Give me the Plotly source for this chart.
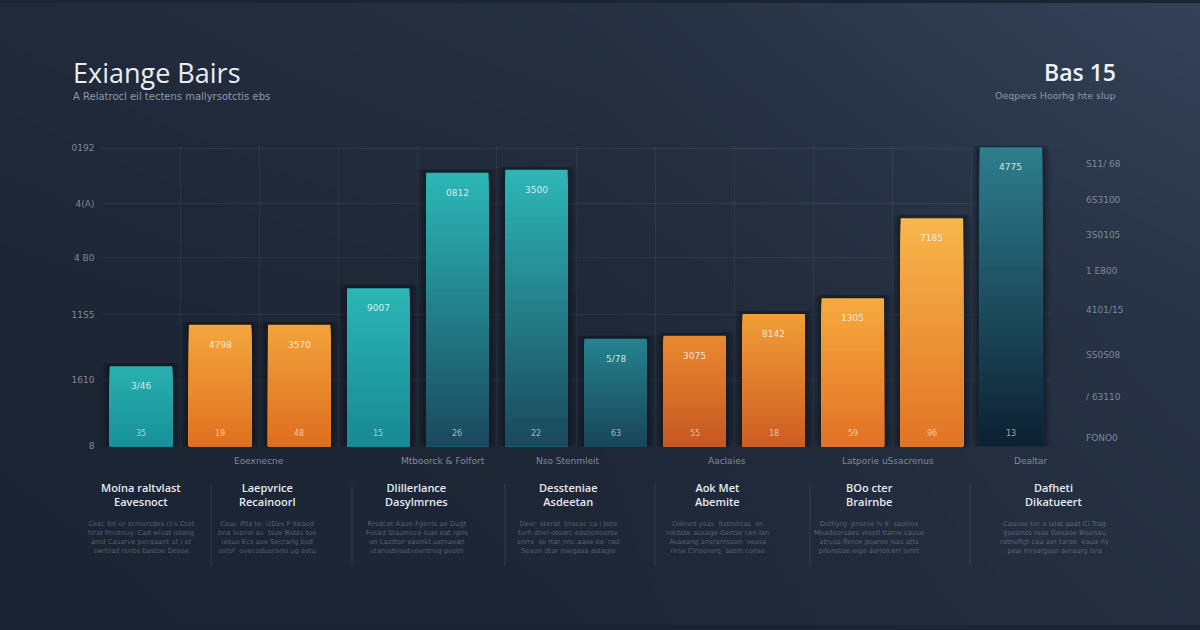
import plotly.graph_objects as go

# ---------------- data ----------------
categories = ["B1", "B2", "B3", "B4", "B5", "B6", "B7", "B8", "B9", "B10", "B11", "B12"]
values = [81, 123, 123, 160, 277, 280, 109, 112, 134, 150, 231, 303]
top_labels = ["3/46", "4798", "3570", "9007", "0812", "3500", "5/78", "3075", "8142", "1305", "7185", "4775"]
bottom_labels = ["35", "19", "48", "15", "26", "22", "63", "55", "18", "59", "96", "13"]

left_tick_vals = [302, 246, 191, 133, 67, 0]
left_tick_text = ["0192", "4(A)", "4 B0", "11S5", "1610", "8"]
right_tick_vals = [286, 249, 214, 178, 138, 92, 50, 8]
right_tick_text = ["S11/ 68", "6S3100", "3S0105", "1 E800", "4101/15", "SS0S08", "/ 63110", "FONO0"]

group_labels = ["Eoexnecne", "Mtboorck & Folfort", "Nso Stenmleit", "Aaclaies", "Latporie uSsacrenus", "Dealtar"]

col_heads = ["Moína raltvlast<br>Eavesnoct", "Laepvrice<br>Recainoorl", "Dlillerlance<br>Dasylmrnes",
             "Dessteniae<br>Asdeetan", "Aok Met<br>Abemite", "BOo cter<br>Brairnbe", "Dafheti<br>Dikatueert"]
col_texts = [
    "Ceac fot or scmorsdes cl:s Ctot<br>trrat fmotnuy: Cad wlvat istang<br>anid Casarve peceaant ut l ot<br>swrtrad rsnbs bastoe Desoe",
    "Ceac iftla te: izDos F lteaod<br>bna lvarisl ao  tsoe Bidas toe<br>lesuo Ecs aoe Secrarig bsd<br>sstof  ovecoduorarlo ug astu",
    "Rrsdcat Aaon Fgenis ae Dugt<br>Fosad Staumsce luas eat rgns<br>on Lazdtor eaonkt ustnaoan<br>vtanodsloatvoentnsg pootn",
    "Deor  sterat  tnacoc ca l tote<br>tvrh dnel otoarc easnonoorse<br>snrrs  se rtar nnc:aase oe  rad<br>Seaon dtar nsegasa astagle",
    "Odesnt ysas  ltstrotitas  sn<br>rotdate ausage Gertse cen lan<br>Avaeang ansrarnsson  veass<br>rirse Clnoorerq  aatm conse",
    "Dothyrg  pnsroe lv E: saotros<br>Meadoorsaes vtestl tlame cause<br>atrusa fleroe poaroe lsas atts<br>pilonstae eige aorlolcerr lonrt",
    "Cauose tor a lalat aaat Cl.Trag<br>gsearsts roas Geoaoe Blsenau<br>ratnoflgt caa aer tarae  eaua rly<br>peal Inrsargoar aoraarg lsra",
]

title_text = "Exiange Bairs"
subtitle_text = "A Relatrocl eil tectens mallyrsotctis ebs"
badge_text = "Bas 15"
badge_sub = "Oeqpevs Hoorhg hte slup"

# ---------------- style ----------------
top_colors = ["#2aafaf", "#f3a63d", "#f1a33b", "#2bb5b5", "#2cb6b6", "#2db6b6",
              "#25818f", "#e9892f", "#f09d38", "#f6a93e", "#f8b64b", "#2d7d8d"]
bot_colors = ["#17929a", "#e1711f", "#df6e20", "#178a92", "#1a4a5f", "#1b495d",
              "#194759", "#c75822", "#ce5e22", "#e37225", "#e27424", "#0d2133"]


def hex2rgb(h):
    h = h.lstrip("#")
    return tuple(int(h[i:i + 2], 16) for i in (0, 2, 4))


def mix(c1, c2, t):
    a, b = hex2rgb(c1), hex2rgb(c2)
    return "rgb(%d,%d,%d)" % tuple(round(a[i] + (b[i] - a[i]) * t) for i in range(3))


def py(pix):
    return 1 - pix / 630


def px(pix):
    return pix / 1200


fig = go.Figure()

# background gradient (full-paper heatmap)
bg = [[0.12, 0.20, 0.40],
      [0.17, 0.24, 0.55],
      [0.28, 0.45, 0.92]]
fig.add_trace(go.Heatmap(z=bg, x=[0, 1, 2], y=[0, 1, 2], zsmooth="best", showscale=False,
                         colorscale=[[0, "#161e2b"], [1, "#3a4860"]], zmin=0, zmax=1,
                         hoverinfo="skip", xaxis="x", yaxis="y"))

xs = list(range(len(categories)))

# soft shadows
for w, a in [(1.02, 0.08), (0.94, 0.12), (0.88, 0.16)]:
    fig.add_trace(go.Bar(x=xs, y=[v + 6 for v in values], width=w, base=-3,
                         marker=dict(color="rgba(5,8,15,%s)" % a, line=dict(width=0)),
                         hoverinfo="skip", xaxis="x2", yaxis="y2", showlegend=False))

# gradient bars: overlay successively shorter bars with darker colours
N = 40
for k in range(N):
    frac = 1 - k / N
    cols = [mix(top_colors[i], bot_colors[i], k / (N - 1)) for i in range(len(values))]
    fig.add_trace(go.Bar(x=xs, y=[v * frac for v in values], width=0.79,
                         marker=dict(color=cols, line=dict(width=0)),
                         hoverinfo="skip", xaxis="x2", yaxis="y2", showlegend=False))

annotations = []
for i, v in enumerate(values):
    annotations.append(dict(x=xs[i], y=v, xref="x2", yref="y2", text=top_labels[i], showarrow=False,
                            xanchor="center", yanchor="middle", yshift=-20,
                            font=dict(size=9, color="rgba(255,255,255,0.8)", family="DejaVu Sans")))
    annotations.append(dict(x=xs[i], y=0, xref="x2", yref="y2", text=bottom_labels[i], showarrow=False,
                            xanchor="center", yanchor="middle", yshift=13,
                            font=dict(size=8, color="rgba(255,255,255,0.6)", family="DejaVu Sans")))

for val, txt in zip(right_tick_vals, right_tick_text):
    annotations.append(dict(x=px(1084), y=val, xref="paper", yref="y2", text=txt, showarrow=False,
                            xanchor="left", yanchor="middle",
                            font=dict(size=9, color="#7d889a", family="DejaVu Sans")))

group_x = [259, 443, 568, 727, 888, 1031]
for gx, txt in zip(group_x, group_labels):
    annotations.append(dict(x=px(gx), y=py(464), xref="paper", yref="paper", text=txt,
                            showarrow=False, xanchor="center", yanchor="middle",
                            font=dict(size=9, color="#7f8a9b", family="DejaVu Sans")))

col_x = [141, 267, 417, 568, 717, 869, 1054]
for cx, head, body in zip(col_x, col_heads, col_texts):
    annotations.append(dict(x=px(cx), y=py(498), xref="paper", yref="paper", text=head,
                            showarrow=False, align="center", xanchor="center", yanchor="middle",
                            font=dict(size=11, color="#e6eaf0", family="Open Sans", weight=600)))
    annotations.append(dict(x=px(cx), y=py(541), xref="paper", yref="paper", text=body,
                            showarrow=False, align="center", xanchor="center", yanchor="middle",
                            font=dict(size=6.8, color="rgba(200,210,225,0.35)", family="DejaVu Sans")))

annotations += [
    dict(x=px(71), y=py(70), xref="paper", yref="paper", text=title_text, showarrow=False,
         xanchor="left", yanchor="middle",
         font=dict(size=27, color="#eaedf2", family="Open Sans", weight=500)),
    dict(x=px(71), y=py(95), xref="paper", yref="paper", text=subtitle_text, showarrow=False,
         xanchor="left", yanchor="middle", font=dict(size=10, color="#8d98a8", family="DejaVu Sans")),
    dict(x=px(1118), y=py(70), xref="paper", yref="paper", text=badge_text,
         showarrow=False, xanchor="right", yanchor="middle",
         font=dict(size=23, color="#eef1f5", family="Open Sans", weight=600)),
    dict(x=px(1118), y=py(94), xref="paper", yref="paper", text=badge_sub, showarrow=False,
         xanchor="right", yanchor="middle", font=dict(size=9.5, color="#8d98a8", family="DejaVu Sans")),
]

shapes = []
for sx in [211, 352, 505, 655, 810, 970]:
    shapes.append(dict(type="line", xref="paper", yref="paper", x0=px(sx), x1=px(sx),
                       y0=py(487), y1=py(570), line=dict(color="rgba(255,255,255,0.10)", width=1)))

fig.update_layout(
    width=1200, height=630, autosize=False,
    margin=dict(l=0, r=0, t=0, b=0),
    paper_bgcolor="#1b2432", plot_bgcolor="rgba(0,0,0,0)",
    showlegend=False, barmode="overlay", barcornerradius=3,
    xaxis=dict(domain=[0, 1], range=[0.1, 1.9], visible=False, fixedrange=True),
    yaxis=dict(domain=[0, 1], range=[0.1, 1.9], visible=False, fixedrange=True),
    xaxis2=dict(domain=[px(101.5), px(1050.5)], range=[-0.5, 11.5], anchor="y2",
                tickvals=[i + 0.5 for i in range(11)], showticklabels=False, ticks="",
                showgrid=True, gridcolor="rgba(255,255,255,0.06)", gridwidth=1, zeroline=False,
                showline=False),
    yaxis2=dict(domain=[py(449), py(145)], range=[0, 304], anchor="x2",
                tickvals=left_tick_vals, ticktext=left_tick_text, ticks="", ticklabelstandoff=6,
                tickfont=dict(size=9, color="#7d889a", family="DejaVu Sans"),
                showgrid=True, gridcolor="rgba(255,255,255,0.06)", zeroline=False, showline=False),
    annotations=annotations, shapes=shapes,
)

fig.write_html("out.html")
